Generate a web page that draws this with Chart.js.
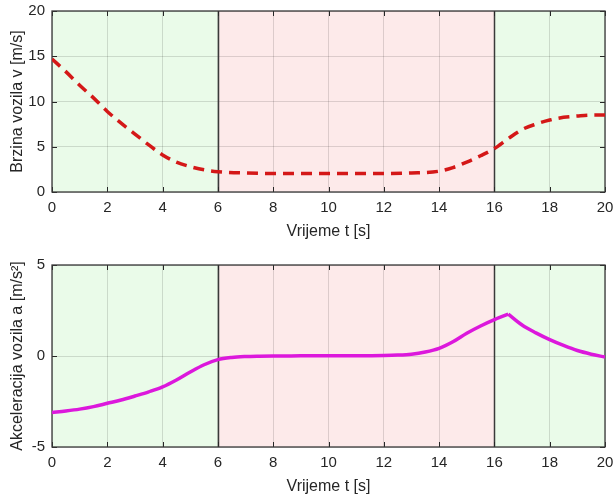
<!DOCTYPE html>
<html lang="hr">
<head>
  <meta charset="UTF-8">
  <title>Brzina i akceleracija vozila</title>
  <script src="https://cdn.jsdelivr.net/npm/chart.js"></script>
  <style>
    body { margin: 0; background: #fff; }
    .wrap { position: relative; width: 615px; height: 497px; }
    canvas { position: absolute; left: 0; }
    #speedChart { top: 0; }
    #accelChart { top: 249px; }
  </style>
</head>
<body>
  <div class="wrap">
    <canvas id="speedChart" width="615" height="249"></canvas>
    <canvas id="accelChart" width="615" height="248"></canvas>
  </div>

  <script>
    // values
    const speedTime = [0, 0.5, 1, 1.5, 2, 2.5, 3, 3.5, 4, 4.5, 5, 5.5, 6, 7, 8, 9, 10, 11, 12, 13, 14, 14.5, 15, 15.5, 16, 16.5, 17, 17.5, 18, 18.5, 19, 19.5, 20];
    const speed = [14.7, 13.3, 11.8, 10.4, 8.9, 7.6, 6.4, 5.2, 4.1, 3.3, 2.8, 2.45, 2.25, 2.1, 2.05, 2.05, 2.05, 2.05, 2.05, 2.1, 2.3, 2.7, 3.3, 4.0, 4.8, 5.9, 6.9, 7.5, 7.95, 8.25, 8.4, 8.5, 8.5];

    const accelTime = [0, 0.5, 1, 1.5, 2, 2.5, 3, 3.5, 4, 4.5, 5, 5.5, 6, 6.5, 7, 7.5, 8, 9, 10, 11, 12, 12.5, 13, 13.5, 14, 14.5, 15, 15.5, 16, 16.5, 17, 17.5, 18, 18.5, 19, 19.5, 20];
    const accel = [-3.1, -3.02, -2.92, -2.78, -2.6, -2.42, -2.2, -1.97, -1.7, -1.32, -0.88, -0.48, -0.2, -0.08, -0.03, -0.01, 0, 0.01, 0.02, 0.02, 0.03, 0.05, 0.1, 0.22, 0.42, 0.78, 1.25, 1.65, 2.0, 2.3, 1.7, 1.27, 0.9, 0.58, 0.3, 0.1, -0.06];

    const xTicks = [0, 2, 4, 6, 8, 10, 12, 14, 16, 18, 20];
    const zoneEdges = [0, 6, 16, 20];
    const zoneKinds = ['go', 'stop', 'go'];

    const ink = '#262626';
    const gridColor = 'rgba(0,0,0,0.13)';
    const family = '"Liberation Sans", Arial, sans-serif';
    const tickFont = { family: family, size: 15 };
    const titleFont = { family: family, size: 16 };
    const zoneFill = { go: '#eafbe9', stop: '#fdeaea' };

    const zonePlugin = {
      id: 'zones',
      beforeDraw(chart) {
        const { ctx, chartArea: a, scales: { x } } = chart;
        ctx.save();
        for (let i = 0; i < zoneKinds.length; i++) {
          const x0 = x.getPixelForValue(zoneEdges[i]);
          const x1 = x.getPixelForValue(zoneEdges[i + 1]);
          ctx.fillStyle = zoneFill[zoneKinds[i]];
          ctx.fillRect(x0, a.top, x1 - x0, a.bottom - a.top);
        }
        ctx.restore();
      },
      beforeDatasetsDraw(chart) {
        const { ctx, chartArea: a, scales: { x, y } } = chart;
        ctx.save();
        // zone boundaries
        ctx.strokeStyle = '#3a3a3a';
        ctx.lineWidth = 1.5;
        zoneEdges.slice(1, -1).forEach(v => {
          const px = Math.round(x.getPixelForValue(v)) + 0.5;
          ctx.beginPath();
          ctx.moveTo(px, a.top);
          ctx.lineTo(px, a.bottom);
          ctx.stroke();
        });
        // small inward ticks
        ctx.strokeStyle = ink;
        ctx.lineWidth = 1;
        x.ticks.forEach(t => {
          const px = Math.round(x.getPixelForValue(t.value)) + 0.5;
          ctx.beginPath();
          ctx.moveTo(px, a.bottom); ctx.lineTo(px, a.bottom - 5);
          ctx.moveTo(px, a.top); ctx.lineTo(px, a.top + 5);
          ctx.stroke();
        });
        y.ticks.forEach(t => {
          const py = Math.round(y.getPixelForValue(t.value)) + 0.5;
          ctx.beginPath();
          ctx.moveTo(a.left, py); ctx.lineTo(a.left + 5, py);
          ctx.moveTo(a.right, py); ctx.lineTo(a.right - 5, py);
          ctx.stroke();
        });
        // frame
        ctx.strokeStyle = '#383838';
        ctx.lineWidth = 1.3;
        ctx.strokeRect(a.left, a.top, a.right - a.left, a.bottom - a.top);
        ctx.restore();
      }
    };

    function plotOptions(yMin, yMax, yStep, yTitle, padTop, xAxisH, xTitlePad) {
      return {
        responsive: false,
        animation: false,
        layout: { padding: { top: padTop, right: 10, left: 0, bottom: 0 } },
        plugins: { legend: { display: false }, tooltip: { enabled: false } },
        elements: { point: { radius: 0 } },
        scales: {
          x: {
            type: 'linear', min: 0, max: 20,
            afterBuildTicks: s => { s.ticks = xTicks.map(v => ({ value: v })); },
            ticks: { color: ink, font: tickFont, padding: 7, maxRotation: 0 },
            grid: { color: gridColor, drawTicks: false },
            border: { display: false },
            title: { display: true, text: 'Vrijeme t [s]', color: ink, font: titleFont, padding: { top: xTitlePad, bottom: xTitlePad } },
            afterFit: s => { s.height = xAxisH; s.paddingLeft = 0; s.paddingRight = 0; }
          },
          y: {
            min: yMin, max: yMax,
            ticks: { stepSize: yStep, color: ink, font: tickFont, padding: 7 },
            grid: { color: gridColor, drawTicks: false },
            border: { display: false },
            title: { display: true, text: yTitle, color: ink, font: titleFont, padding: { top: 8, bottom: 8 } },
            afterFit: s => { s.width = 52; s.paddingTop = 0; s.paddingBottom = 0; }
          }
        }
      };
    }

    new Chart(document.getElementById('speedChart'), {
      type: 'line',
      data: {
        datasets: [{
          data: speedTime.map((t, i) => ({ x: t, y: speed[i] })),
          borderColor: '#d41818',
          borderWidth: 3.5,
          borderDash: [11, 7],
          cubicInterpolationMode: 'monotone',
          fill: false
        }]
      },
      options: plotOptions(0, 20, 5, 'Brzina vozila v [m/s]', 11, 57, 8),
      plugins: [zonePlugin]
    });

    // split at the peak so the corner stays sharp
    const peak = accel.indexOf(Math.max(...accel));
    const accelPts = accelTime.map((t, i) => ({ x: t, y: accel[i] }));
    const accelLine = {
      borderColor: '#dc18dc',
      borderWidth: 3.5,
      cubicInterpolationMode: 'monotone',
      fill: false
    };

    new Chart(document.getElementById('accelChart'), {
      type: 'line',
      data: {
        datasets: [
          Object.assign({ data: accelPts.slice(0, peak + 1) }, accelLine),
          Object.assign({ data: accelPts.slice(peak) }, accelLine)
        ]
      },
      options: plotOptions(-5, 5, 5, 'Akceleracija vozila a [m/s²]', 16, 50, 1),
      plugins: [zonePlugin]
    });
  </script>
</body>
</html>
